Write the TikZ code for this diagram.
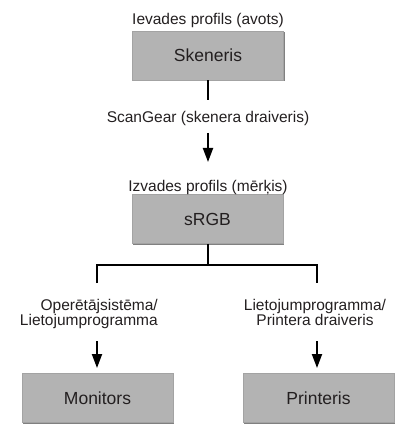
\documentclass[tikz,border=0pt]{standalone}
\usepackage{fontspec}
\setmainfont{Liberation Sans}
\usetikzlibrary{arrows.meta,shadows}
\definecolor{boxfill}{HTML}{B3B3B3}
\definecolor{boxedge}{HTML}{A3A3A3}
\definecolor{boxshadow}{HTML}{808080}
\definecolor{txt}{HTML}{231F20}
\begin{document}
\begin{tikzpicture}[x=1pt,y=-1pt,
  box/.style={draw=boxedge, line width=0.6pt, fill=boxfill, minimum width=151pt,
    minimum height=49pt, inner sep=0pt, text=txt, font=\fontsize{17.5}{20}\selectfont,
    drop shadow={shadow xshift=1.2pt, shadow yshift=-1.2pt, fill=boxshadow, opacity=1}},
  lab/.style={text=txt, font=\fontsize{15.5}{15}\selectfont, inner sep=0pt},
  conn/.style={line width=2pt, draw=black, line join=miter},
  arr/.style={conn, -{Triangle[width=10pt,length=14pt]}}]
\useasboundingbox (0,0) rectangle (416,446);

% boxes
\node[box] (skn)  at (208,55.5) {Skeneris};
\node[box] (srgb) at (207.5,219) {sRGB};
\node[box] (mon)  at (97.5,398) {Monitors};
\node[box] (prn)  at (318.5,398) {Printeris};

% labels
\node[lab, anchor=base] (lin)  at (208,25) {Ievades profils (avots)};
\node[lab, anchor=base] (drv)  at (208,122.7) {ScanGear (skenera draiveris)};
\node[lab, anchor=base] (lout) at (208,191) {Izvades profils (mērķis)};
\node[lab, anchor=base east, align=right] (los) at (158,325.7) {Operētājsistēma/\\Lietojumprogramma};
\node[lab, anchor=base, align=center] (lapp) at (315,325.7) {Lietojumprogramma/\\Printera draiveris};

% coordinates
\coordinate (c1) at (208,100);
\coordinate (a1s) at (208,133);
\coordinate (a1e) at (208,162);
\coordinate (j) at (207.5,265);
\coordinate (lt) at (97,265);
\coordinate (lb) at (97,283);
\coordinate (rt) at (317,265);
\coordinate (rb) at (317,283);
\coordinate (a2s) at (97,341);
\coordinate (a2e) at (97,368);
\coordinate (a3s) at (317,341);
\coordinate (a3e) at (317,368);

% connectors
\draw[conn] (skn.south) -- (c1);
\draw[arr] (a1s) -- (a1e);
\draw[conn] (srgb.south) -- (j);
\draw[conn] (lb) -- (lt) -- (rt) -- (rb);
\draw[arr] (a2s) -- (a2e);
\draw[arr] (a3s) -- (a3e);
\end{tikzpicture}
\end{document}
